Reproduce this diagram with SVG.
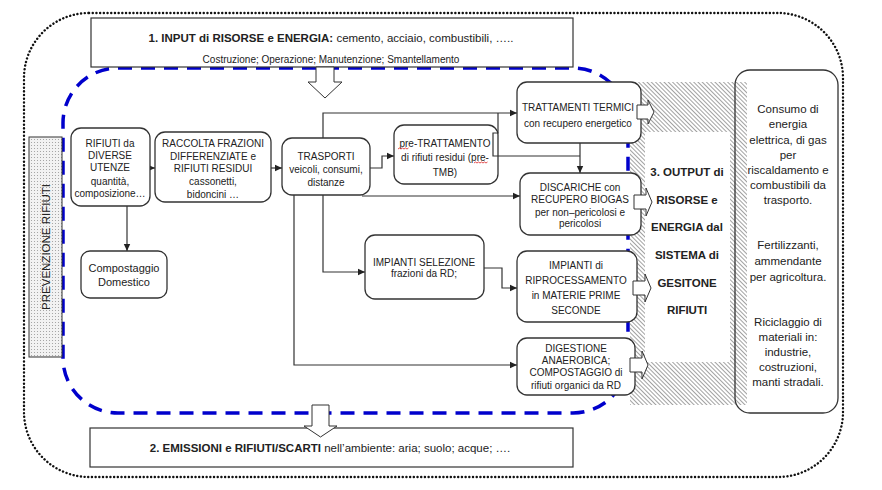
<svg xmlns="http://www.w3.org/2000/svg" width="882" height="490" viewBox="0 0 882 490">
<defs>
<style>
text{font-family:"Liberation Sans",Arial,sans-serif;fill:#222;}
.t10{font-size:10px;text-anchor:middle;}
.t11{font-size:11px;text-anchor:middle;}
.t115{font-size:11.5px;text-anchor:middle;}
.b{font-weight:bold;}
.node{fill:#fff;stroke:#333;stroke-width:1.3;}
.conn{fill:none;stroke:#333;stroke-width:1.2;}
.blk{fill:#fff;stroke:#333;stroke-width:1;}
</style>
<marker id="ah" markerUnits="userSpaceOnUse" markerWidth="8" markerHeight="8" refX="7" refY="4" orient="auto">
<path d="M0,0.8 L7,4 L0,7.2 Z" fill="#222"/>
</marker>
<pattern id="hatch" patternUnits="userSpaceOnUse" width="3" height="3" patternTransform="rotate(-45)">
<rect width="3" height="3" fill="#fff"/>
<line x1="0" y1="0" x2="0" y2="3" stroke="#555" stroke-width="1.1"/>
</pattern>
<pattern id="stipple" patternUnits="userSpaceOnUse" width="3" height="3">
<rect width="3" height="3" fill="#f2f2f2"/>
<circle cx="1.5" cy="1.5" r="0.55" fill="#999"/>
</pattern>
</defs>
<rect width="882" height="490" fill="#fff"/>

<g id="outer-boundary">
<rect x="24" y="13" width="819" height="464" rx="65" ry="65" fill="none" stroke="#111" stroke-width="2.4" stroke-dasharray="0.1 3.6" stroke-linecap="round"/>
</g>
<g id="system-boundary">
<rect x="63" y="68" width="565" height="345" rx="55" ry="55" fill="none" stroke="#0000cc" stroke-width="3.5" stroke-dasharray="14 9"/>
</g>

<g id="output-area">
<rect x="630" y="82" width="117" height="323" fill="url(#hatch)"/>
<rect x="645" y="132" width="85" height="230" fill="#fff"/>
<text class="t115 b" x="687" y="176">3. OUTPUT di</text>
<text class="t115 b" x="687" y="204">RISORSE e</text>
<text class="t115 b" x="687" y="231">ENERGIA dal</text>
<text class="t115 b" x="687" y="259">SISTEMA di</text>
<text class="t115 b" x="687" y="287">GESITONE</text>
<text class="t115 b" x="687" y="314">RIFIUTI</text>
</g>

<g id="connectors">
<path class="conn" d="M147,168 H155" marker-end="url(#ah)"/>
<path class="conn" d="M271,168 H282" marker-end="url(#ah)"/>
<path class="conn" d="M127,206 V251" marker-end="url(#ah)"/>
<path class="conn" d="M370,168 H382 V156 H394" marker-end="url(#ah)"/>
<path class="conn" d="M323,138 V113 H517" marker-end="url(#ah)"/>
<path class="conn" d="M580,143 V173" marker-end="url(#ah)"/>
<path class="conn" d="M362,196 H520" marker-end="url(#ah)"/>
<path class="conn" d="M294,195 V365 H517" marker-end="url(#ah)"/>
<path class="conn" d="M323,195 V272 H365" marker-end="url(#ah)"/>
<path class="conn" d="M484,268 H502 V288 H517" marker-end="url(#ah)"/>
</g>

<g id="input-box">
<rect x="91" y="18" width="482" height="49" fill="#fff" stroke="#333" stroke-width="1.2"/>
<text x="331" y="42" style="font-size:11.5px;text-anchor:middle"><tspan class="b">1.  INPUT di RISORSE e ENERGIA:</tspan> cemento, acciaio, combustibili, …..</text>
<text class="t10" x="331" y="63">Costruzione; Operazione; Manutenzione; Smantellamento</text>
</g>
<g id="input-arrow">
<path class="blk" d="M316,67 H334 V82 H342 L325,98 L308,82 H316 Z"/>
</g>

<g id="emissions-box">
<rect x="90" y="428" width="483" height="39" fill="#fff" stroke="#333" stroke-width="1.2"/>
<text x="330" y="452" style="font-size:11.5px;text-anchor:middle"><tspan class="b">2. EMISSIONI e RIFIUTI/SCARTI</tspan> nell’ambiente: aria; suolo; acque; ….</text>
</g>
<g id="emissions-arrow">
<path class="blk" d="M312,405 H329 V426 H337 L320.5,437 L304,426 H312 Z"/>
</g>

<g id="prevenzione">
<rect x="29" y="137" width="33" height="220" fill="url(#stipple)" stroke="#333" stroke-width="1"/>
<text transform="translate(50,247) rotate(-90)" style="font-size:11.5px;text-anchor:middle">PREVENZIONE RIFIUTI</text>
</g>

<g id="rifiuti-utenze">
<rect class="node" x="71" y="128" width="79" height="78" rx="10"/>
<text class="t10" x="110" y="147">RIFIUTI da</text>
<text class="t10" x="110" y="159">DIVERSE</text>
<text class="t10" x="110" y="171">UTENZE</text>
<text class="t10" x="110" y="185">quantità,</text>
<text class="t10" x="110" y="197">composizione…</text>
</g>

<g id="raccolta">
<rect class="node" x="155" y="132" width="116" height="70" rx="10"/>
<text class="t10" x="213" y="147">RACCOLTA FRAZIONI</text>
<text class="t10" x="213" y="160">DIFFERENZIATE e</text>
<text class="t10" x="213" y="172">RIFIUTI RESIDUI</text>
<text class="t10" x="213" y="185">cassonetti,</text>
<text class="t10" x="213" y="198">bidoncini …</text>
</g>

<g id="compostaggio-domestico">
<rect class="node" x="81" y="251" width="86" height="47" rx="9"/>
<text class="t11" x="124" y="272">Compostaggio</text>
<text class="t11" x="124" y="286">Domestico</text>
</g>

<g id="trasporti">
<rect class="node" x="282" y="138" width="88" height="57" rx="10"/>
<text class="t10" x="326" y="160">TRASPORTI</text>
<text class="t10" x="326" y="173">veicoli, consumi,</text>
<text class="t10" x="326" y="186">distanze</text>
</g>

<g id="pre-trattamento">
<rect class="node" x="394" y="125" width="104" height="59" rx="10"/>
<path class="conn" d="M498,113 V133 H493 V156 H580"/>
<text class="t10" x="445" y="147">pre-TRATTAMENTO</text>
<text class="t10" x="445" y="161">di rifiuti residui (pre-</text>
<text class="t10" x="445" y="176">TMB)</text>
<path d="M398,149 l1.5,-1 l1.5,1 l1.5,-1 l1.5,1 l1.5,-1 l1.5,1 l1.5,-1" fill="none" stroke="#d22" stroke-width="0.8"/>
<path d="M474,163 l1.5,-1 l1.5,1 l1.5,-1 l1.5,1 l1.5,-1 l1.5,1 l1.5,-1 l1.5,1 l1.5,-1" fill="none" stroke="#d22" stroke-width="0.8"/>
</g>

<g id="trattamenti-termici">
<rect class="node" x="517" y="82" width="124" height="61" rx="10"/>
<text class="t10" x="578" y="111">TRATTAMENTI TERMICI</text>
<text class="t10" x="578" y="127">con recupero energetico</text>
</g>

<g id="discariche">
<rect class="node" x="520" y="173" width="121" height="62" rx="10"/>
<text class="t10" x="580" y="191">DISCARICHE con</text>
<text class="t10" x="580" y="203">RECUPERO BIOGAS</text>
<text class="t10" x="580" y="216">per non–pericolosi e</text>
<text class="t10" x="580" y="227">pericolosi</text>
</g>

<g id="impianti-selezione">
<rect class="node" x="365" y="235" width="119" height="64" rx="10"/>
<text class="t10" x="424" y="266">IMPIANTI SELEZIONE</text>
<text class="t10" x="424" y="277">frazioni da RD;</text>
</g>

<g id="riprocessamento">
<rect class="node" x="517" y="251" width="120" height="71" rx="10"/>
<text class="t10" x="576" y="269">IMPIANTI di</text>
<text class="t10" x="576" y="284">RIPROCESSAMENTO</text>
<text class="t10" x="576" y="299">in MATERIE PRIME</text>
<text class="t10" x="576" y="314">SECONDE</text>
</g>

<g id="digestione">
<rect class="node" x="517" y="338" width="118" height="57" rx="10"/>
<text class="t10" x="576" y="352">DIGESTIONE</text>
<text class="t10" x="576" y="364">ANAEROBICA;</text>
<text class="t10" x="576" y="376">COMPOSTAGGIO di</text>
<text class="t10" x="576" y="389">rifiuti organici da RD</text>
</g>

<g id="output-arrows">
<path class="blk" d="M637,105 H648 V100 L654,112 L648,124 V119 H637 Z"/>
<path class="blk" d="M634,195 H646 V188 L652,202 L646,216 V209 H634 Z"/>
<path class="blk" d="M633,281 H645 V274 L651,288 L645,302 V295 H633 Z"/>
<path class="blk" d="M630,358 H642 V351 L648,365 L642,379 V372 H630 Z"/>
</g>

<g id="output-uses">
<rect x="735" y="70" width="103" height="343" rx="15" fill="none" stroke="#333" stroke-width="1.3"/>
<text class="t115" x="788" y="113">Consumo di</text>
<text class="t115" x="788" y="128">energia</text>
<text class="t115" x="788" y="144">elettrica, di gas</text>
<text class="t115" x="788" y="159">per</text>
<text class="t115" x="788" y="174">riscaldamento e</text>
<text class="t115" x="788" y="189">combustibili da</text>
<text class="t115" x="788" y="204">trasporto.</text>
<text class="t115" x="788" y="249">Fertilizzanti,</text>
<text class="t115" x="788" y="265">ammendante</text>
<text class="t115" x="788" y="281">per agricoltura.</text>
<text class="t115" x="788" y="326">Riciclaggio di</text>
<text class="t115" x="788" y="341">materiali in:</text>
<text class="t115" x="788" y="356">industrie,</text>
<text class="t115" x="788" y="371">costruzioni,</text>
<text class="t115" x="788" y="386">manti stradali.</text>
</g>
</svg>
